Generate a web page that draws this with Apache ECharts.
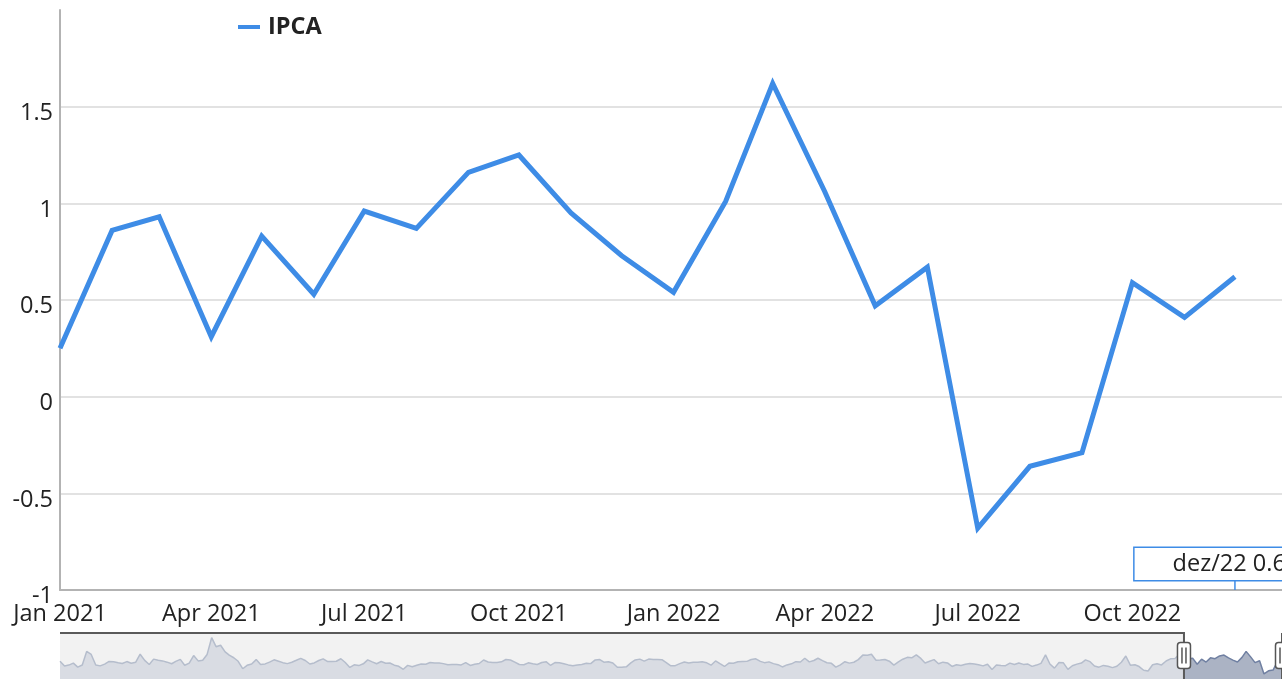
<!DOCTYPE html>
<html>
<head>
<meta charset="utf-8">
<script src="https://cdn.jsdelivr.net/npm/echarts@6/dist/echarts.min.js"></script>
<style>
html,body{margin:0;padding:0;background:#fff;overflow:hidden}
#c{width:1282px;height:679px}
</style>
</head>
<body>
<div id="c"></div>
<script>
// ---------- DATA ----------
const seriesName = 'IPCA';
const mainMonths = ['2021-01','2021-02','2021-03','2021-04','2021-05','2021-06','2021-07','2021-08','2021-09','2021-10','2021-11','2021-12',
                    '2022-01','2022-02','2022-03','2022-04','2022-05','2022-06','2022-07','2022-08','2022-09','2022-10','2022-11','2022-12'];
const ipcaMain = [0.25, 0.86, 0.93, 0.31, 0.83, 0.53, 0.96, 0.87, 1.16, 1.25, 0.95, 0.73,
                  0.54, 1.01, 1.62, 1.06, 0.47, 0.67, -0.68, -0.36, -0.29, 0.59, 0.41, 0.62];
const yTickValues = [-1, -0.5, 0, 0.5, 1, 1.5];
const ptMonthAbbr = ['jan','fev','mar','abr','mai','jun','jul','ago','set','out','nov','dez'];
const mainAxisMin = '2021-01-01', mainAxisMax = '2022-12-29';
const navAxisMin = '2000-01-01', navAxisMax = '2022-11-01';

// navigator history (monthly IPCA, Jan 2000 - Dec 2020)
const ipca2000 = [0.62, 0.13, 0.22, 0.42, 0.01, 0.23, 1.61, 1.31, 0.23, 0.14, 0.32, 0.59];
const ipca2001 = [0.57, 0.46, 0.38, 0.58, 0.41, 0.52, 1.33, 0.70, 0.28, 0.83, 0.71, 0.65];
const ipca2002 = [0.52, 0.36, 0.60, 0.80, 0.21, 0.42, 1.19, 0.65, 0.72, 1.31, 3.02, 2.10];
const ipca2003 = [2.25, 1.57, 1.23, 0.97, 0.61, -0.15, 0.20, 0.34, 0.78, 0.29, 0.34, 0.52];
const ipca2004 = [0.76, 0.61, 0.47, 0.37, 0.51, 0.71, 0.91, 0.69, 0.33, 0.44, 0.69, 0.86];
const ipca2005 = [0.58, 0.59, 0.61, 0.87, 0.49, -0.02, 0.25, 0.17, 0.35, 0.75, 0.55, 0.36];
const ipca2006 = [0.59, 0.41, 0.43, 0.21, 0.10, -0.21, 0.19, 0.05, 0.21, 0.33, 0.31, 0.48];
const ipca2007 = [0.44, 0.44, 0.37, 0.25, 0.28, 0.28, 0.24, 0.47, 0.18, 0.30, 0.38, 0.74];
const ipca2008 = [0.54, 0.49, 0.48, 0.55, 0.79, 0.74, 0.53, 0.28, 0.26, 0.45, 0.36, 0.28];
const ipca2009 = [0.48, 0.55, 0.20, 0.48, 0.47, 0.36, 0.24, 0.15, 0.24, 0.28, 0.41, 0.37];
const ipca2010 = [0.75, 0.78, 0.52, 0.57, 0.43, 0.00, 0.01, 0.04, 0.45, 0.75, 0.83, 0.63];
const ipca2011 = [0.83, 0.80, 0.79, 0.77, 0.47, 0.15, 0.16, 0.37, 0.53, 0.43, 0.52, 0.50];
const ipca2012 = [0.56, 0.45, 0.21, 0.64, 0.36, 0.08, 0.43, 0.41, 0.57, 0.59, 0.60, 0.79];
const ipca2013 = [0.86, 0.60, 0.47, 0.55, 0.37, 0.26, 0.03, 0.24, 0.35, 0.57, 0.54, 0.92];
const ipca2014 = [0.55, 0.69, 0.92, 0.67, 0.46, 0.40, 0.01, 0.25, 0.57, 0.42, 0.51, 0.78];
const ipca2015 = [1.24, 1.22, 1.32, 0.71, 0.74, 0.79, 0.62, 0.22, 0.54, 0.82, 1.01, 0.96];
const ipca2016 = [1.27, 0.90, 0.43, 0.61, 0.78, 0.35, 0.52, 0.44, 0.08, 0.26, 0.18, 0.30];
const ipca2017 = [0.38, 0.33, 0.25, 0.14, 0.31, -0.23, 0.24, 0.19, 0.16, 0.42, 0.28, 0.44];
const ipca2018 = [0.29, 0.32, 0.09, 0.22, 0.40, 1.26, 0.33, -0.09, 0.48, 0.45, -0.21, 0.15];
const ipca2019 = [0.32, 0.43, 0.75, 0.57, 0.13, 0.01, 0.19, 0.11, -0.04, 0.10, 0.51, 1.15];
const ipca2020 = [0.21, 0.25, 0.07, -0.31, -0.38, 0.26, 0.36, 0.24, 0.64, 0.86, 0.89, 1.35];
const historyYears = [2000,2001,2002,2003,2004,2005,2006,2007,2008,2009,2010,2011,2012,2013,2014,2015,2016,2017,2018,2019,2020];
const historyValues = [ipca2000,ipca2001,ipca2002,ipca2003,ipca2004,ipca2005,ipca2006,ipca2007,ipca2008,ipca2009,ipca2010,
                       ipca2011,ipca2012,ipca2013,ipca2014,ipca2015,ipca2016,ipca2017,ipca2018,ipca2019,ipca2020];

// ---------- BUILD ----------
const FONT = 'Open Sans';
const FS = 23.5;
const TXT = '#222';
const BLUE = '#3e8ce6';
const pad2 = n => (n < 10 ? '0' : '') + n;

const mainData = mainMonths.map((m, i) => [m + '-01', ipcaMain[i]]);
const histData = [];
historyYears.forEach((y, yi) => historyValues[yi].forEach((v, mi) => histData.push([y + '-' + pad2(mi + 1) + '-01', v])));
const navLight = histData.concat([mainData[0]]);
const navDark = mainData.slice();

const lastIdx = mainMonths.length - 1;
const lastMonth = parseInt(mainMonths[lastIdx].slice(5, 7), 10);
const tipText = ptMonthAbbr[lastMonth - 1] + '/' + mainMonths[lastIdx].slice(2, 4) + ' ' + ipcaMain[lastIdx];

const navMin = -1.2, navMax = 3.6;

const chart = echarts.init(document.getElementById('c'), null, { renderer: 'canvas' });
const option = {
  animation: false,
  backgroundColor: '#fff',
  textStyle: { fontFamily: FONT },
  legend: {
    data: [seriesName], left: 238, top: 15, padding: 0, icon: 'rect', itemWidth: 22, itemHeight: 4,
    textStyle: { fontFamily: FONT, fontSize: FS, fontWeight: 'bold', color: TXT, padding: [0, 0, 0, 3], lineHeight: 24 }
  },
  grid: [
    { left: 60, top: 10, right: 0, height: 580, containLabel: false },
    { left: 60, top: 632, right: 0, height: 48, show: true, backgroundColor: '#f2f2f2', borderWidth: 0 }
  ],
  xAxis: [
    {
      type: 'time', gridIndex: 0, min: mainAxisMin, max: mainAxisMax, splitNumber: 8,
      minInterval: 3 * 28 * 86400000, maxInterval: 3 * 31 * 86400000,
      axisLine: { show: true, onZero: false, lineStyle: { color: '#b3b3b3', width: 2 } },
      axisTick: { show: false },
      splitLine: { show: false },
      axisLabel: { formatter: '{MMM} {yyyy}', fontFamily: FONT, fontSize: FS, color: TXT, margin: 12, hideOverlap: false }
    },
    { type: 'time', gridIndex: 1, min: navAxisMin, max: navAxisMax, show: false }
  ],
  yAxis: [
    {
      type: 'value', gridIndex: 0, min: -1, max: 2, interval: 0.5,
      axisLine: { show: true, onZero: false, lineStyle: { color: '#b3b3b3', width: 2 } },
      axisTick: { show: false },
      splitLine: { show: true, showMinLine: false, showMaxLine: false, lineStyle: { color: '#d9d9d9', width: 1.5 } },
      axisLabel: {
        fontFamily: FONT, fontSize: FS, color: TXT, margin: 7, verticalAlign: 'top', lineHeight: 13,
        formatter: v => (yTickValues.indexOf(v) >= 0 ? String(v) : '')
      }
    },
    { type: 'value', gridIndex: 1, min: navMin, max: navMax, show: false }
  ],
  series: [
    {
      name: seriesName, type: 'line', xAxisIndex: 0, yAxisIndex: 0, data: mainData,
      showSymbol: false, symbol: 'none', lineStyle: { color: BLUE, width: 5, join: 'miter' }, itemStyle: { color: BLUE },
      z: 3,
      markPoint: {
        silent: true, symbol: 'rect', symbolSize: [1.5, 10], symbolOffset: [0, -5],
        itemStyle: { color: BLUE },
        label: {
          show: true, position: 'top', distance: 0, formatter: tipText,
          fontFamily: FONT, fontSize: FS, lineHeight: 24, color: TXT,
          backgroundColor: '#fff', borderColor: BLUE, borderWidth: 1.5, padding: [4, 36, 4, 38]
        },
        data: [{ coord: [mainData[lastIdx][0], -1] }]
      }
    },
    {
      name: 'navLight', type: 'line', xAxisIndex: 1, yAxisIndex: 1, data: navLight, silent: true,
      showSymbol: false, symbol: 'none', lineStyle: { color: '#b5bdcc', width: 1.5 },
      areaStyle: { color: '#d9dce3', origin: 'start', opacity: 1 }
    },
    {
      name: 'navDark', type: 'line', xAxisIndex: 1, yAxisIndex: 1, data: navDark, silent: true,
      showSymbol: false, symbol: 'none', lineStyle: { color: '#7080a2', width: 1.5 },
      areaStyle: { color: '#abb3c4', origin: 'start', opacity: 1 },
      markArea: { silent: true, itemStyle: { color: '#ffffff' }, data: [[{ xAxis: mainData[0][0] }, { xAxis: navAxisMax }]] }
    }
  ]
};
chart.setOption(option);

// navigator outline and handles, positioned through the navigator axes
function px(d, v) { return chart.convertToPixel({ xAxisIndex: 1, yAxisIndex: 1 }, [d, v]); }
const pStart = px(navAxisMin, navMax);
const pSel = px(mainData[0][0], navMax);
const pSelBottom = px(mainData[0][0], navMin);
const pEnd = px(navAxisMax, navMax);
function handleParts(x) {
  const cy = (pSel[1] + pSelBottom[1]) / 2;
  return [
    { type: 'rect', z: 100, shape: { x: x - 6.5, y: cy - 13, width: 13, height: 26, r: 3 }, style: { fill: '#fff', stroke: '#555', lineWidth: 1.5 } },
    { type: 'line', z: 101, shape: { x1: x - 2, y1: cy - 8, x2: x - 2, y2: cy + 8 }, style: { stroke: '#555', lineWidth: 1.5 } },
    { type: 'line', z: 101, shape: { x1: x + 2, y1: cy - 8, x2: x + 2, y2: cy + 8 }, style: { stroke: '#555', lineWidth: 1.5 } }
  ];
}
chart.setOption({
  graphic: [
    { type: 'polyline', z: 90, shape: { points: [[pStart[0], pStart[1] + 1], [pSel[0], pSel[1] + 1], [pSel[0], pSelBottom[1]]] }, style: { stroke: '#5a5a5a', lineWidth: 2, fill: null } },
    { type: 'line', z: 90, shape: { x1: pEnd[0], y1: pEnd[1] + 1, x2: pEnd[0], y2: pSelBottom[1] }, style: { stroke: '#5a5a5a', lineWidth: 2 } }
  ].concat(handleParts(pSel[0]), handleParts(pEnd[0]))
});
</script>
</body>
</html>
